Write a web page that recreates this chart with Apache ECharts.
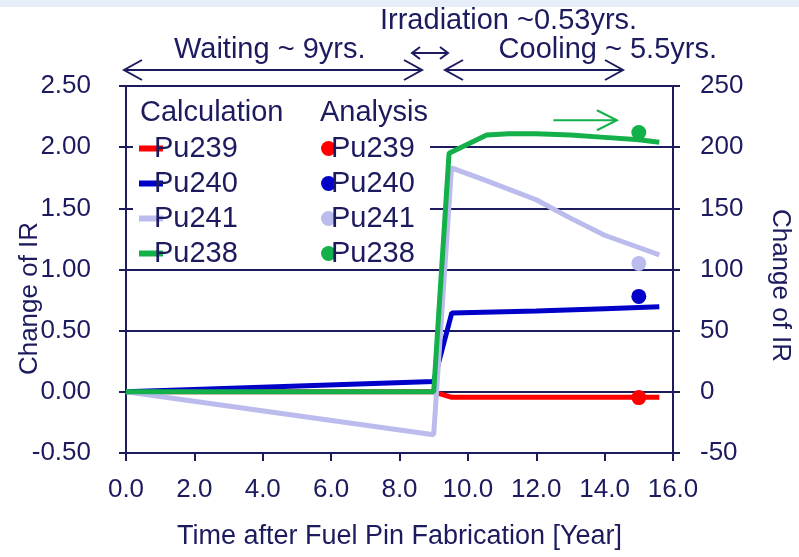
<!DOCTYPE html>
<html>
<head>
<meta charset="utf-8">
<script src="https://cdn.jsdelivr.net/npm/echarts@6/dist/echarts.min.js"></script>
<style>
  html, body { margin: 0; padding: 0; background: #fff; }
  #main { width: 799px; height: 557px; }
</style>
</head>
<body>
<div id="main"></div>
<script>
// calculated curves: [time (year), change of IR]
const calcPu239 = [[0, 0], [9.0, 0], [9.53, -0.045], [15.6, -0.045]];
const calcPu240 = [[0, 0], [9.0, 0.085], [9.53, 0.645], [12.0, 0.66], [14.0, 0.68], [15.6, 0.695]];
const calcPu241 = [[0, 0], [9.0, -0.35], [9.52, 1.83], [10.5, 1.73], [12.0, 1.57], [13.0, 1.42], [14.0, 1.28], [15.0, 1.18], [15.6, 1.12]];
// Pu238 is read on the right axis
const calcPu238 = [[0, 0], [9.0, 0], [9.45, 195], [10.55, 210], [11.2, 211], [12.0, 211], [13.0, 210], [14.0, 208], [15.0, 206], [15.6, 204]];

// analysis points
const anaPu239 = [[15.0, -0.047]];
const anaPu240 = [[15.0, 0.78]];
const anaPu241 = [[15.0, 1.05]];
const anaPu238 = [[15.0, 212]];

const isotopes = ['Pu239', 'Pu240', 'Pu241', 'Pu238'];
const colors = ['#ff0000', '#0000c8', '#bbbbee', '#14b04a'];

const navy = '#1b1b5e';
const font = 'Liberation Sans, Arial, sans-serif';

let chart = echarts.init(document.getElementById('main'), null, { renderer: 'canvas' });

function lineSeries(name, data, color, yIdx) {
  return {
    name: 'calc_' + name,
    type: 'line',
    yAxisIndex: yIdx,
    data: data,
    symbol: 'none',
    color: color,
    lineStyle: { width: 5, color: color },
    z: 2
  };
}
function pointSeries(name, data, color, yIdx) {
  return {
    name: 'ana_' + name,
    type: 'scatter',
    yAxisIndex: yIdx,
    data: data,
    symbol: 'circle',
    symbolSize: 15,
    color: color,
    itemStyle: { color: color, opacity: 1 },
    z: 3
  };
}

const calcData = [calcPu239, calcPu240, calcPu241, calcPu238];
const anaData = [anaPu239, anaPu240, anaPu241, anaPu238];
let series = [];
isotopes.forEach((n, i) => series.push(lineSeries(n, calcData[i], colors[i], i === 3 ? 1 : 0)));
isotopes.forEach((n, i) => series.push(pointSeries(n, anaData[i], colors[i], i === 3 ? 1 : 0)));

const legendText = { color: navy, fontSize: 29, fontFamily: font, lineHeight: 28 };

const yBase = {
  type: 'value',
  axisLine: { show: true, onZero: false, lineStyle: { color: navy, width: 2 } },
  axisTick: { show: true, length: 7, lineStyle: { color: navy, width: 2 } },
  axisLabel: { color: navy, fontSize: 26, fontFamily: font },
  nameLocation: 'middle',
  nameMoveOverlap: false,
  nameTextStyle: { color: navy, fontSize: 26, fontFamily: font }
};
const innerTick = { show: true, inside: true, length: 6, lineStyle: { color: navy, width: 2 } };

var option = {
  backgroundColor: '#ffffff',
  animation: false,
  grid: { left: 126, right: 126, top: 86, bottom: 104, containLabel: false, outerBoundsMode: 'none' },
  xAxis: {
    type: 'value',
    min: 0, max: 16, interval: 2,
    axisLine: { show: true, onZero: false, lineStyle: { color: navy, width: 2 } },
    axisTick: { show: true, length: 8, lineStyle: { color: navy, width: 2 } },
    axisLabel: { color: navy, fontSize: 26, fontFamily: font, margin: 24, formatter: v => v.toFixed(1) },
    splitLine: { show: false },
    name: 'Time after Fuel Pin Fabrication [Year]',
    nameLocation: 'middle',
    nameGap: 70,
    nameTextStyle: { color: navy, fontSize: 27, fontFamily: font }
  },
  yAxis: [
    Object.assign({}, yBase, {
      position: 'left', min: -0.5, max: 2.5, interval: 0.5,
      axisLabel: Object.assign({}, yBase.axisLabel, { margin: 35, formatter: v => v.toFixed(2) }),
      splitLine: { show: true, lineStyle: { color: navy, width: 2 } },
      name: 'Change of IR', nameGap: 83,
      nameTextStyle: Object.assign({}, yBase.nameTextStyle, { padding: [0, 58, 0, 0] })
    }),
    Object.assign({}, yBase, {
      position: 'right', min: -50, max: 250, interval: 50,
      axisLabel: Object.assign({}, yBase.axisLabel, { margin: 27 }),
      splitLine: { show: false },
      name: 'Change of IR', nameGap: 94, nameRotate: -90,
      nameTextStyle: Object.assign({}, yBase.nameTextStyle, { padding: [0, 0, 0, 32] })
    }),
    // inner halves of the crossing ticks
    {
      type: 'value', position: 'left', min: -0.5, max: 2.5, interval: 0.5,
      axisLine: { show: false, onZero: false }, axisLabel: { show: false }, splitLine: { show: false },
      axisTick: innerTick
    },
    {
      type: 'value', position: 'right', min: -50, max: 250, interval: 50,
      axisLine: { show: false, onZero: false }, axisLabel: { show: false }, splitLine: { show: false },
      axisTick: innerTick
    }
  ],
  legend: [
    {
      left: 139, top: 134, orient: 'vertical', padding: 0, itemGap: 6,
      icon: 'rect', itemWidth: 24, itemHeight: 6,
      data: isotopes.map(n => 'calc_' + n),
      formatter: name => name.split('_')[1],
      textStyle: Object.assign({}, legendText, { padding: [0, 0, 0, -14] }),
      selectedMode: false, z: 5
    },
    {
      left: 321, top: 134, orient: 'vertical', padding: 0, itemGap: 6,
      icon: 'circle', itemWidth: 15, itemHeight: 15,
      data: isotopes.map(n => 'ana_' + n),
      formatter: name => name.split('_')[1],
      textStyle: Object.assign({}, legendText, { padding: [0, 0, 0, -10] }),
      selectedMode: false, z: 5
    }
  ],
  series: series
};

chart.setOption(option);

// annotations
function arrowLine(x1, x2, y, head, half, color, lw, both) {
  let els = [
    { type: 'line', shape: { x1: x1, y1: y, x2: x2, y2: y }, style: { stroke: color, lineWidth: lw } },
    { type: 'polyline', shape: { points: [[x2 - head, y - half], [x2, y], [x2 - head, y + half]] }, style: { stroke: color, lineWidth: lw, fill: null } }
  ];
  if (both) {
    els.push({ type: 'polyline', shape: { points: [[x1 + head, y - half], [x1, y], [x1 + head, y + half]] }, style: { stroke: color, lineWidth: lw, fill: null } });
  }
  return els;
}

const annText = { fill: navy, fontSize: 29, fontFamily: font, verticalAlign: 'middle' };
const p1 = chart.convertToPixel({ xAxisIndex: 0, yAxisIndex: 0 }, [12.5, 2.22]);
const p2 = chart.convertToPixel({ xAxisIndex: 0, yAxisIndex: 0 }, [14.36, 2.22]);

let graphics = [
  { type: 'rect', shape: { x: 0, y: 0, width: 799, height: 7 }, style: { fill: '#e6eefa' }, z: 0 },
  // white legend box
  { type: 'rect', shape: { x: 133, y: 89, width: 297, height: 177 }, style: { fill: '#ffffff' }, z: 1 },
  { type: 'text', left: 140, top: 98, style: { text: 'Calculation', fill: navy, fontSize: 29, fontFamily: font }, z: 5 },
  { type: 'text', left: 320, top: 98, style: { text: 'Analysis', fill: navy, fontSize: 29, fontFamily: font }, z: 5 },
  { type: 'text', x: 380, y: 21, style: Object.assign({ text: 'Irradiation ~0.53yrs.', align: 'left' }, annText), z: 5 },
  { type: 'text', x: 174, y: 50, style: Object.assign({ text: 'Waiting ~ 9yrs.', align: 'left' }, annText), z: 5 },
  { type: 'text', x: 717, y: 50, style: Object.assign({ text: 'Cooling ~ 5.5yrs.', align: 'right' }, annText), z: 5 }
];
graphics = graphics
  .concat(arrowLine(124, 422, 70, 18, 10, navy, 2, true))
  .concat(arrowLine(445, 623, 70, 18, 10, navy, 2, true))
  .concat(arrowLine(412, 448, 53, 8, 6, navy, 2, true))
  .concat(arrowLine(p1[0], p2[0], p1[1], 20, 10, '#14b04a', 2, false));

chart.setOption({ graphic: { elements: graphics.map(g => Object.assign({ z: 5 }, g)) } });
</script>
</body>
</html>
